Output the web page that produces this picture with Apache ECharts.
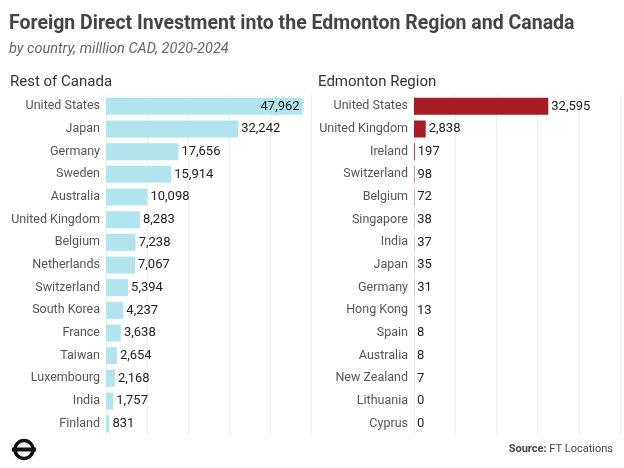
<!DOCTYPE html><html><head><meta charset="utf-8"><script src="https://cdn.jsdelivr.net/npm/echarts@6/dist/echarts.min.js"></script>
<style>body{margin:0}#c{width:624px;height:468px}</style></head><body><div id="c"></div><script>
const leftCats=["United States","Japan","Germany","Sweden","Australia","United Kingdom","Belgium","Netherlands","Switzerland","South Korea","France","Taiwan","Luxembourg","India","Finland"];
const leftVals=[47962,32242,17656,15914,10098,8283,7238,7067,5394,4237,3638,2654,2168,1757,831];
const rightCats=["United States","United Kingdom","Ireland","Switzerland","Belgium","Singapore","India","Japan","Germany","Hong Kong","Spain","Australia","New Zealand","Lithuania","Cyprus"];
const rightVals=[32595,2838,197,98,72,38,37,35,31,13,8,8,7,0,0];
const F="Roboto";
const ch=echarts.init(document.getElementById('c'));
function xa(i){return {type:'value',gridIndex:i,min:0,max:50000,interval:10000,axisLabel:{show:false},axisLine:{show:false},axisTick:{show:false},splitLine:{lineStyle:{color:'#eeeeee'}}};}
function ya(i,c){return {type:'category',gridIndex:i,data:c,inverse:true,axisLine:{show:false},axisTick:{show:false},axisLabel:{color:'#555',fontSize:12.5,fontFamily:F,margin:6}};}
function ser(i,v,col){return {type:'bar',xAxisIndex:i,yAxisIndex:i,barCategoryGap:'25%',itemStyle:{color:col},
 data:v.map((d,k)=>k===0&&i===0?{value:d,label:{position:'insideRight'}}:d),
 label:{show:true,position:'right',distance:3,color:'#222',fontSize:13,fontFamily:F,formatter:p=>p.value.toLocaleString('en-US')}};}
ch.setOption({animation:false,
title:[{text:'Foreign Direct Investment into the Edmonton Region and Canada',left:4,top:9,textStyle:{fontFamily:F,fontSize:19.5,fontWeight:'bold',color:'#444'}},
{text:'by country, milllion CAD, 2020-2024',left:4,top:37,textStyle:{fontFamily:F,fontSize:14.5,fontStyle:'italic',fontWeight:'normal',color:'#666'}},
{text:'Rest of Canada',left:5,top:70,textStyle:{fontFamily:F,fontSize:15,fontWeight:'normal',color:'#333'}},
{text:'Edmonton Region',left:313,top:70,textStyle:{fontFamily:F,fontSize:15,fontWeight:'normal',color:'#333'}},
{text:'{b|Source:} FT Locations',right:6,top:439,textStyle:{fontFamily:F,fontSize:11,fontWeight:'normal',color:'#444',rich:{b:{fontFamily:F,fontSize:11,fontWeight:'bold',color:'#444'}}}}],
graphic:[{type:'group',left:12,top:438,children:[
{type:'circle',shape:{cx:12,cy:11,r:9},style:{fill:'none',stroke:'#111',lineWidth:3.5}},
{type:'rect',shape:{x:0,y:9,width:24,height:4},style:{fill:'#111'}}]}],
grid:[{left:106,width:205,top:95,height:340},{left:414,width:206,top:95,height:340}],
xAxis:[xa(0),xa(1)],yAxis:[ya(0,leftCats),ya(1,rightCats)],
series:[ser(0,leftVals,'#b2e4f0'),ser(1,rightVals,'#a51c24')]});
</script></body></html>
